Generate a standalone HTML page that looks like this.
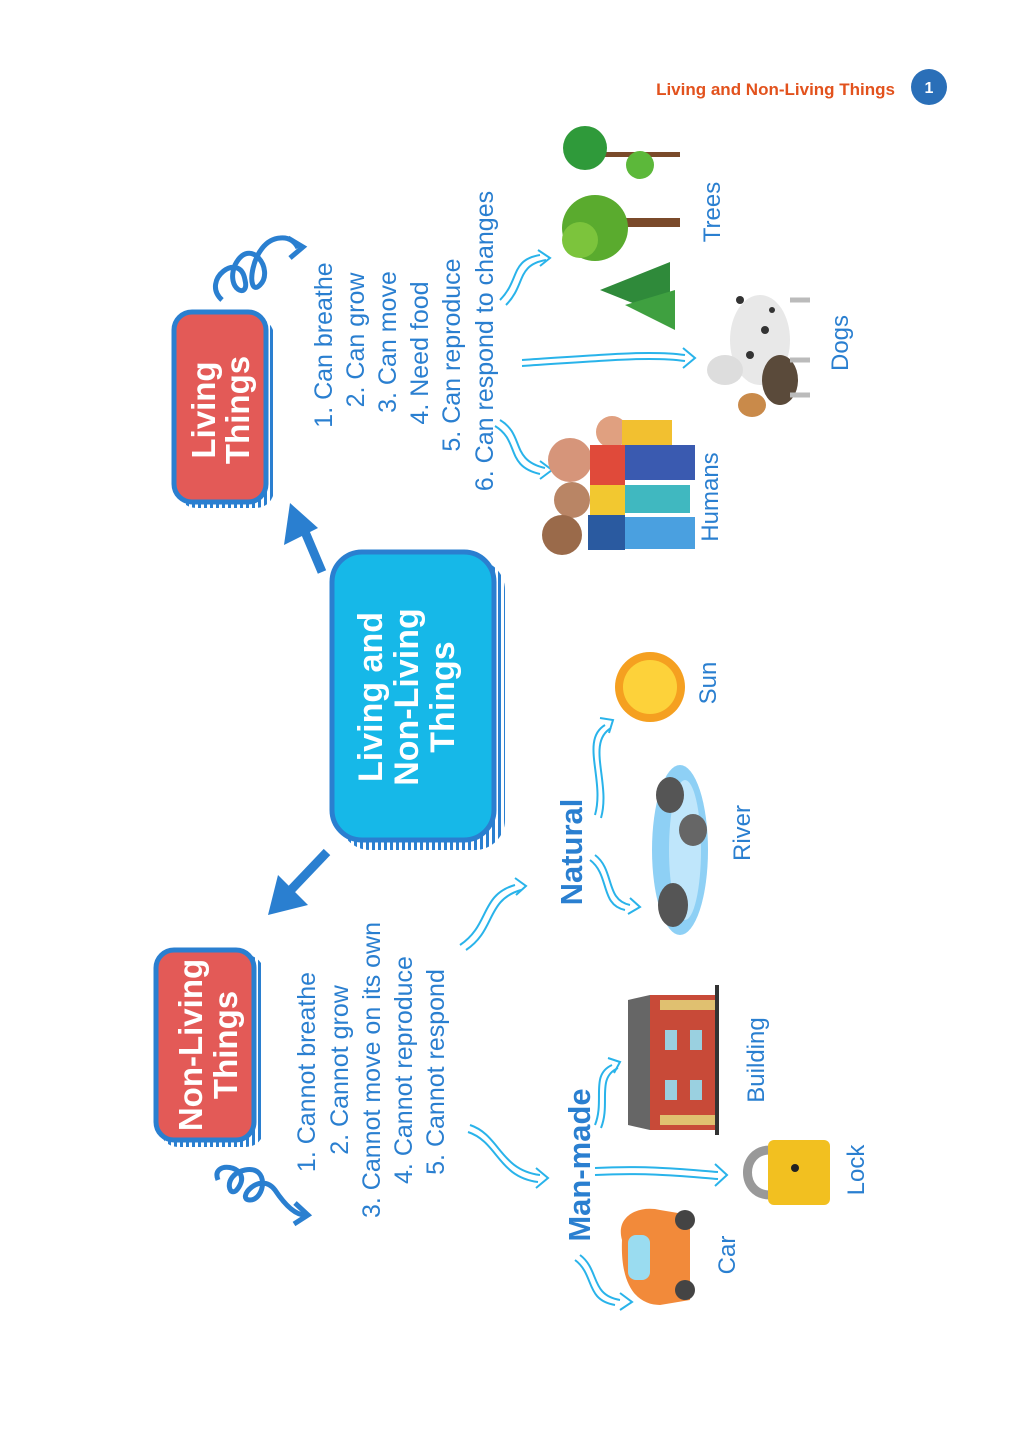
<!DOCTYPE html>
<html><head><meta charset="utf-8"><style>
html,body{margin:0;padding:0;background:#fff;width:1024px;height:1440px;overflow:hidden}
svg{display:block}
.h{font-family:"Liberation Sans",sans-serif;fill:#2a7fd0;font-size:25px}
.b{font-family:"Liberation Sans",sans-serif;font-weight:bold;fill:#fff}
.lb{font-family:"Liberation Sans",sans-serif;fill:#2a7fd0;font-size:24px}
</style></head><body>
<svg width="1024" height="1440" viewBox="0 0 1024 1440" xmlns="http://www.w3.org/2000/svg">
<defs>
<pattern id="hat" width="6" height="6" patternUnits="userSpaceOnUse"><rect width="6" height="6" fill="#fff"/><rect width="3" height="6" fill="#2a7fd0"/></pattern>
<pattern id="hat2" width="6" height="6" patternUnits="userSpaceOnUse"><rect width="6" height="6" fill="#fff"/><rect width="6" height="3" fill="#2a7fd0"/></pattern>
</defs>
<!-- header -->
<text x="895" y="95" text-anchor="end" font-family="Liberation Sans,sans-serif" font-weight="bold" font-size="17" fill="#e2521d">Living and Non-Living Things</text>
<circle cx="929" cy="87" r="18" fill="#2a6fb8"/>
<text x="929" y="93" text-anchor="middle" font-family="Liberation Sans,sans-serif" font-weight="bold" font-size="16" fill="#fff">1</text>

<!-- Living Things box -->
<rect x="178" y="318" width="96" height="190" rx="18" fill="url(#hat)"/>
<rect x="174" y="312" width="92" height="190" rx="18" fill="#e35a57" stroke="#2a7fd0" stroke-width="5"/>
<g transform="rotate(-90 0 0)">
<text class="b" x="-410" y="215" font-size="33" text-anchor="middle">Living</text>
<text class="b" x="-410" y="249" font-size="33" text-anchor="middle">Things</text>
</g>

<!-- Center box -->
<rect x="340" y="560" width="165" height="290" rx="30" fill="url(#hat)"/>
<rect x="332" y="552" width="162" height="288" rx="30" fill="#16b8e8" stroke="#2a7fd0" stroke-width="5"/>
<g transform="rotate(-90 0 0)">
<text class="b" x="-697" y="382" font-size="34" text-anchor="middle">Living and</text>
<text class="b" x="-697" y="418" font-size="34" text-anchor="middle">Non-Living</text>
<text class="b" x="-697" y="454" font-size="34" text-anchor="middle">Things</text>
</g>

<!-- Non-Living box -->
<rect x="160" y="955" width="104" height="192" rx="18" fill="url(#hat)"/>
<rect x="156" y="950" width="98" height="190" rx="18" fill="#e35a57" stroke="#2a7fd0" stroke-width="5"/>
<g transform="rotate(-90 0 0)">
<text class="b" x="-1045" y="202" font-size="33" text-anchor="middle">Non-Living</text>
<text class="b" x="-1045" y="237" font-size="33" text-anchor="middle">Things</text>
</g>

<!-- big arrows -->
<path d="M322 572 L300 520" stroke="#2a7fd0" stroke-width="9" fill="none"/>
<path d="M290 503 L284 545 L318 528 Z" fill="#2a7fd0"/>
<path d="M327 852 L288 893" stroke="#2a7fd0" stroke-width="9" fill="none"/>
<path d="M268 915 L278 875 L308 905 Z" fill="#2a7fd0"/>

<!-- curly arrows -->
<path d="M222 300 C200 280 240 250 245 280 C250 300 225 290 235 265 C250 235 275 270 260 285 C245 300 250 240 280 238 C290 237 295 242 298 248" stroke="#2a7fd0" stroke-width="5" fill="none"/>
<path d="M288 238 L303 247 L290 258" stroke="#2a7fd0" stroke-width="5" fill="none"/>
<path d="M218 1180 C210 1160 250 1165 240 1185 C230 1205 220 1175 245 1170 C270 1165 265 1200 250 1200 C235 1200 260 1170 275 1190 C285 1205 295 1215 305 1215" stroke="#2a7fd0" stroke-width="5" fill="none"/>
<path d="M295 1203 L308 1215 L294 1224" stroke="#2a7fd0" stroke-width="5" fill="none"/>

<!-- living list -->
<g transform="rotate(-90 0 0)" class="h" text-anchor="middle">
<text x="-345" y="332">1. Can breathe</text>
<text x="-340" y="364">2. Can grow</text>
<text x="-342" y="396">3. Can move</text>
<text x="-353" y="428">4. Need food</text>
<text x="-355" y="460">5. Can reproduce</text>
<text x="-341" y="493">6. Can respond to changes</text>
</g>
<!-- non-living list -->
<g transform="rotate(-90 0 0)" class="h" text-anchor="middle">
<text x="-1072" y="315">1. Cannot breathe</text>
<text x="-1070" y="348">2. Cannot grow</text>
<text x="-1070" y="380">3. Cannot move on its own</text>
<text x="-1070" y="412">4. Cannot reproduce</text>
<text x="-1072" y="444">5. Cannot respond</text>
</g>

<!-- thin double arrows -->
<g stroke="#29b3ea" stroke-width="2" fill="none">
<path d="M500 300 C520 280 510 260 540 255"/><path d="M506 305 C526 285 516 265 546 260"/><path d="M538 250 L550 258 L540 266"/>
<path d="M522 360 C600 355 650 350 685 355"/><path d="M522 366 C600 361 650 356 685 361"/><path d="M683 348 L695 358 L683 368"/>
<path d="M500 420 C525 435 510 460 545 468"/><path d="M495 426 C520 441 505 466 540 474"/><path d="M540 461 L552 470 L540 479"/>
<path d="M460 945 C490 925 480 895 515 885"/><path d="M466 950 C496 930 486 900 521 890"/><path d="M515 878 L526 886 L516 895"/>
<path d="M595 815 C605 780 580 740 605 725"/><path d="M601 818 C611 783 586 743 611 728"/><path d="M600 718 L613 720 L609 733"/>
<path d="M595 855 C615 870 605 900 630 905"/><path d="M590 860 C610 875 600 905 625 910"/><path d="M630 898 L640 907 L628 914"/>
<path d="M470 1125 C500 1135 500 1170 540 1175"/><path d="M468 1132 C498 1142 498 1177 538 1182"/><path d="M536 1168 L548 1178 L536 1188"/>
<path d="M595 1125 C605 1100 590 1075 612 1065"/><path d="M601 1128 C611 1103 596 1078 618 1068"/><path d="M608 1058 L620 1062 L614 1073"/>
<path d="M595 1168 C650 1165 690 1170 718 1172"/><path d="M595 1175 C650 1172 690 1177 718 1179"/><path d="M715 1164 L727 1175 L715 1186"/>
<path d="M580 1255 C600 1270 590 1295 620 1300"/><path d="M575 1260 C595 1275 585 1300 615 1305"/><path d="M620 1293 L632 1302 L620 1310"/>
</g>

<!-- Natural / Man-made -->
<g transform="rotate(-90 0 0)" font-family="Liberation Sans,sans-serif" font-weight="bold" fill="#2a7fd0" text-anchor="middle">
<text x="-852" y="582" font-size="31">Natural</text>
<text x="-1165" y="590" font-size="31">Man-made</text>
</g>
<!-- labels -->
<g transform="rotate(-90 0 0)" class="lb" text-anchor="middle">
<text x="-212" y="720">Trees</text>
<text x="-343" y="848">Dogs</text>
<text x="-497" y="718">Humans</text>
<text x="-683" y="716">Sun</text>
<text x="-833" y="750">River</text>
<text x="-1060" y="764">Building</text>
<text x="-1170" y="864">Lock</text>
<text x="-1255" y="735">Car</text>
</g>

<!-- pictures -->
<!-- trees -->
<rect x="600" y="152" width="80" height="5" fill="#7a4a2a"/>
<circle cx="585" cy="148" r="22" fill="#2f9a3a"/><circle cx="640" cy="165" r="14" fill="#5cb83a"/>
<rect x="610" y="218" width="70" height="9" fill="#7a4a2a"/>
<circle cx="595" cy="228" r="33" fill="#5aab2e"/><circle cx="580" cy="240" r="18" fill="#7cc43c"/>
<polygon points="600,290 670,262 670,318" fill="#2f8a3a"/><polygon points="625,305 675,290 675,330" fill="#3fa040"/>
<!-- dogs -->
<ellipse cx="760" cy="340" rx="30" ry="45" fill="#e8e8e8"/>
<circle cx="740" cy="300" r="4" fill="#333"/><circle cx="765" cy="330" r="4" fill="#333"/><circle cx="750" cy="355" r="4" fill="#333"/><circle cx="772" cy="310" r="3" fill="#333"/>
<ellipse cx="725" cy="370" rx="18" ry="15" fill="#ddd"/>
<ellipse cx="780" cy="380" rx="18" ry="25" fill="#5a4a3a"/>
<ellipse cx="752" cy="405" rx="14" ry="12" fill="#c98a4a"/>
<path d="M790 300 L810 300 M790 360 L810 360 M790 395 L810 395" stroke="#bbb" stroke-width="5"/>
<!-- humans -->
<ellipse cx="570" cy="460" rx="22" ry="22" fill="#d6957a"/><ellipse cx="612" cy="432" rx="16" ry="16" fill="#e0a080"/>
<ellipse cx="572" cy="500" rx="18" ry="18" fill="#b98565"/><ellipse cx="562" cy="535" rx="20" ry="20" fill="#9a6a4a"/>
<rect x="590" y="445" width="35" height="40" fill="#e04a3a"/><rect x="625" y="445" width="70" height="35" fill="#3a5ab0"/>
<rect x="590" y="485" width="35" height="30" fill="#f2c830"/><rect x="625" y="485" width="65" height="28" fill="#40b8c0"/>
<rect x="588" y="515" width="37" height="35" fill="#2a5aa0"/><rect x="625" y="517" width="70" height="32" fill="#4aa0e0"/>
<rect x="622" y="420" width="50" height="25" fill="#f2c030"/>
<!-- sun -->
<circle cx="650" cy="687" r="35" fill="#f5a020"/><circle cx="650" cy="687" r="27" fill="#fdd23a"/>
<!-- river -->
<ellipse cx="680" cy="850" rx="28" ry="85" fill="#8ed0f5"/><ellipse cx="685" cy="850" rx="16" ry="70" fill="#bfe6fb"/>
<ellipse cx="670" cy="795" rx="14" ry="18" fill="#555"/><ellipse cx="693" cy="830" rx="14" ry="16" fill="#666"/><ellipse cx="673" cy="905" rx="15" ry="22" fill="#555"/>
<!-- building -->
<rect x="650" y="995" width="68" height="135" fill="#c84a38"/>
<polygon points="628,1000 650,995 650,1130 628,1125" fill="#666"/>
<rect x="660" y="1000" width="55" height="10" fill="#e0c070"/><rect x="660" y="1115" width="55" height="10" fill="#e0c070"/>
<rect x="715" y="985" width="4" height="150" fill="#333"/>
<g fill="#9ad0e0"><rect x="665" y="1030" width="12" height="20"/><rect x="690" y="1030" width="12" height="20"/><rect x="665" y="1080" width="12" height="20"/><rect x="690" y="1080" width="12" height="20"/></g>
<!-- lock -->
<path d="M770 1150 C740 1150 740 1195 770 1195" stroke="#999" stroke-width="9" fill="none"/>
<rect x="768" y="1140" width="62" height="65" rx="6" fill="#f2c020"/>
<circle cx="795" cy="1168" r="4" fill="#222"/>
<!-- car -->
<path d="M622 1240 C615 1215 640 1205 660 1210 L690 1215 L690 1300 L660 1305 C640 1305 620 1290 622 1240 Z" fill="#f28a3a"/>
<rect x="628" y="1235" width="22" height="45" rx="8" fill="#9adcf0"/>
<circle cx="685" cy="1220" r="10" fill="#444"/><circle cx="685" cy="1290" r="10" fill="#444"/>
</svg>
</body></html>
